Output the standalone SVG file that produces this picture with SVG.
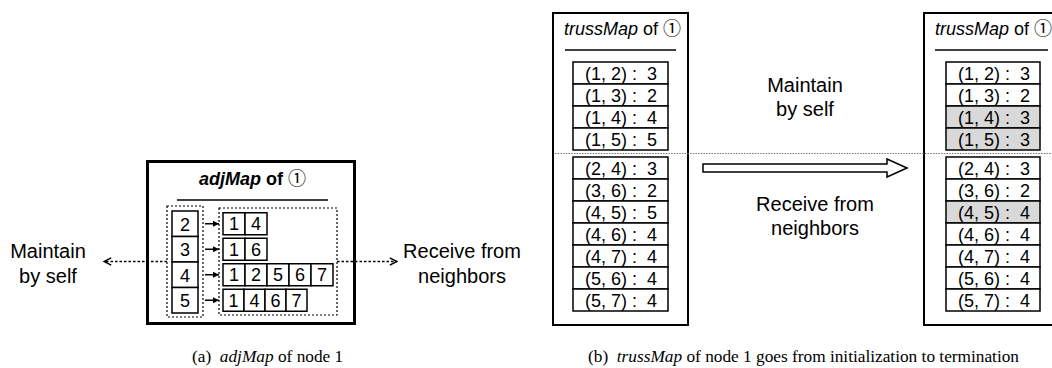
<svg xmlns="http://www.w3.org/2000/svg" width="1052" height="368" viewBox="0 0 1052 368" xml:space="preserve">
<defs>
<style>
.t{font-family:"Liberation Sans","Noto Sans CJK SC",sans-serif;fill:#000}
.lbl{font-size:20px;text-anchor:middle}
.cell{fill:#fff;stroke:#000;stroke-width:1.5}
.gray{fill:#d9d9d9;stroke:#000;stroke-width:1.5}
.num{font-size:18px;text-anchor:middle}
.row{font-size:18px;text-anchor:middle;white-space:pre}
.dot{fill:none;stroke:#000;stroke-width:1.2;stroke-dasharray:2 2}
.cap{font-family:"Liberation Serif",serif;font-size:17.3px;fill:#000;white-space:pre}
</style>
<marker id="open" viewBox="0 0 10 10" refX="9" refY="5" markerWidth="9" markerHeight="9" markerUnits="userSpaceOnUse" orient="auto">
<path d="M1,1 L9,5 L1,9" fill="none" stroke="#000" stroke-width="1.6"/>
</marker>
<marker id="solid" viewBox="0 0 10 10" refX="10" refY="5" markerWidth="6" markerHeight="6" markerUnits="userSpaceOnUse" orient="auto">
<path d="M0,0 L10,5 L0,10 Z" fill="#000"/>
</marker>
</defs>

<!-- Panel (a) -->
<g id="adjMap">
<rect x="147.5" y="161.5" width="207" height="162" fill="#fff" stroke="#000" stroke-width="3"/>
<text class="t" x="199" y="185" style="font-size:18px;font-weight:bold"><tspan font-style="italic">adjMap</tspan> of <tspan font-weight="normal">①</tspan></text>
<line x1="177" y1="200" x2="328" y2="200" stroke="#000" stroke-width="1.5"/>
</g>

<g id="keys">
<rect class="dot" x="167" y="206" width="36" height="111"/>
<rect class="cell" x="172" y="211" width="26" height="25.5"/>
<rect class="cell" x="172" y="236.5" width="26" height="25.5"/>
<rect class="cell" x="172" y="262" width="26" height="25.5"/>
<rect class="cell" x="172" y="287.5" width="26" height="25.5"/>
<text class="t num" x="185" y="230.5">2</text>
<text class="t num" x="185" y="256">3</text>
<text class="t num" x="185" y="281.5">4</text>
<text class="t num" x="185" y="307">5</text>
</g>

<g id="lists">
<rect class="dot" x="219" y="208" width="118" height="107"/>
<rect class="cell" x="223" y="212.75" width="22" height="22"/>
<rect class="cell" x="245" y="212.75" width="22" height="22"/>
<text class="t num" x="234" y="230.25">1</text>
<text class="t num" x="256" y="230.25">4</text>
<rect class="cell" x="223" y="238.25" width="22" height="22"/>
<rect class="cell" x="245" y="238.25" width="22" height="22"/>
<text class="t num" x="234" y="255.75">1</text>
<text class="t num" x="256" y="255.75">6</text>
<rect class="cell" x="223" y="263.75" width="22" height="22"/>
<rect class="cell" x="245" y="263.75" width="22" height="22"/>
<rect class="cell" x="267" y="263.75" width="22" height="22"/>
<rect class="cell" x="289" y="263.75" width="22" height="22"/>
<rect class="cell" x="311" y="263.75" width="22" height="22"/>
<text class="t num" x="234" y="281.25">1</text>
<text class="t num" x="256" y="281.25">2</text>
<text class="t num" x="278" y="281.25">5</text>
<text class="t num" x="300" y="281.25">6</text>
<text class="t num" x="322" y="281.25">7</text>
<rect class="cell" x="223" y="289.25" width="21" height="22"/>
<rect class="cell" x="244" y="289.25" width="21" height="22"/>
<rect class="cell" x="265" y="289.25" width="21" height="22"/>
<rect class="cell" x="286" y="289.25" width="21" height="22"/>
<text class="t num" x="233.5" y="306.75">1</text>
<text class="t num" x="254.5" y="306.75">4</text>
<text class="t num" x="275.5" y="306.75">6</text>
<text class="t num" x="296.5" y="306.75">7</text>
</g>

<g id="labelsA">
<text class="t lbl" x="48" y="258">Maintain</text>
<text class="t lbl" x="48" y="283">by self</text>
<text class="t lbl" x="462" y="258">Receive from</text>
<text class="t lbl" x="462" y="283">neighbors</text>
</g>

<g id="connectorsA">
<line x1="167" y1="261.5" x2="104" y2="261.5" stroke="#000" stroke-width="1.5" stroke-dasharray="2.5 2" marker-end="url(#open)"/>
<line x1="337" y1="261.5" x2="397" y2="261.5" stroke="#000" stroke-width="1.5" stroke-dasharray="2.5 2" marker-end="url(#open)"/>
<line x1="205" y1="223.75" x2="219" y2="223.75" stroke="#000" stroke-width="1.5" marker-end="url(#solid)"/>
<line x1="205" y1="249.25" x2="219" y2="249.25" stroke="#000" stroke-width="1.5" marker-end="url(#solid)"/>
<line x1="205" y1="274.75" x2="219" y2="274.75" stroke="#000" stroke-width="1.5" marker-end="url(#solid)"/>
<line x1="205" y1="300.25" x2="219" y2="300.25" stroke="#000" stroke-width="1.5" marker-end="url(#solid)"/>
</g>

<!-- Panel (b) -->
<g id="trussInit">
<rect x="553" y="13" width="135" height="312" fill="#fff" stroke="#000" stroke-width="2"/>
<text class="t" x="564" y="35" style="font-size:18px"><tspan font-style="italic">trussMap</tspan> of ①</text>
<line x1="565" y1="50" x2="676" y2="50" stroke="#000" stroke-width="1.5"/>
<rect class="cell" x="573" y="62" width="95" height="22"/>
<rect class="cell" x="573" y="84" width="95" height="22"/>
<rect class="cell" x="573" y="106" width="95" height="22"/>
<rect class="cell" x="573" y="128" width="95" height="22"/>
<text class="t row" x="621" y="79.5">(1, 2) :  3</text>
<text class="t row" x="621" y="101.5">(1, 3) :  2</text>
<text class="t row" x="621" y="123.5">(1, 4) :  4</text>
<text class="t row" x="621" y="145.5">(1, 5) :  5</text>
<rect class="cell" x="573" y="157" width="95" height="22"/>
<rect class="cell" x="573" y="179" width="95" height="22"/>
<rect class="cell" x="573" y="201" width="95" height="22"/>
<rect class="cell" x="573" y="223" width="95" height="22"/>
<rect class="cell" x="573" y="245" width="95" height="22"/>
<rect class="cell" x="573" y="267" width="95" height="22"/>
<rect class="cell" x="573" y="289" width="95" height="22"/>
<text class="t row" x="621" y="174.5">(2, 4) :  3</text>
<text class="t row" x="621" y="196.5">(3, 6) :  2</text>
<text class="t row" x="621" y="218.5">(4, 5) :  5</text>
<text class="t row" x="621" y="240.5">(4, 6) :  4</text>
<text class="t row" x="621" y="262.5">(4, 7) :  4</text>
<text class="t row" x="621" y="284.5">(5, 6) :  4</text>
<text class="t row" x="621" y="306.5">(5, 7) :  4</text>
</g>

<g id="trussFinal">
<rect x="924" y="13" width="140" height="312" fill="#fff" stroke="#000" stroke-width="2"/>
<text class="t" x="935" y="35" style="font-size:18px"><tspan font-style="italic">trussMap</tspan> of ①</text>
<line x1="935" y1="50" x2="1048" y2="50" stroke="#000" stroke-width="1.5"/>
<rect class="cell" x="946" y="62" width="94" height="22"/>
<rect class="cell" x="946" y="84" width="94" height="22"/>
<rect class="gray" x="946" y="106" width="94" height="22"/>
<rect class="gray" x="946" y="128" width="94" height="22"/>
<text class="t row" x="994" y="79.5">(1, 2) :  3</text>
<text class="t row" x="994" y="101.5">(1, 3) :  2</text>
<text class="t row" x="994" y="123.5">(1, 4) :  3</text>
<text class="t row" x="994" y="145.5">(1, 5) :  3</text>
<rect class="cell" x="946" y="157" width="94" height="22"/>
<rect class="cell" x="946" y="179" width="94" height="22"/>
<rect class="gray" x="946" y="201" width="94" height="22"/>
<rect class="cell" x="946" y="223" width="94" height="22"/>
<rect class="cell" x="946" y="245" width="94" height="22"/>
<rect class="cell" x="946" y="267" width="94" height="22"/>
<rect class="cell" x="946" y="289" width="94" height="22"/>
<text class="t row" x="994" y="174.5">(2, 4) :  3</text>
<text class="t row" x="994" y="196.5">(3, 6) :  2</text>
<text class="t row" x="994" y="218.5">(4, 5) :  4</text>
<text class="t row" x="994" y="240.5">(4, 6) :  4</text>
<text class="t row" x="994" y="262.5">(4, 7) :  4</text>
<text class="t row" x="994" y="284.5">(5, 6) :  4</text>
<text class="t row" x="994" y="306.5">(5, 7) :  4</text>
</g>

<g id="labelsB">
<text class="t lbl" x="805" y="92">Maintain</text>
<text class="t lbl" x="805" y="116">by self</text>
<text class="t lbl" x="815" y="211">Receive from</text>
<text class="t lbl" x="815" y="235">neighbors</text>
</g>

<g id="connectorsB">
<line x1="555" y1="153.5" x2="1052" y2="153.5" stroke="#777" stroke-width="1.2" stroke-dasharray="1.5 1.2"/>
<polygon points="703,164 887,164 887,159 907,168 887,177 887,172 703,172" fill="#fff" stroke="#000" stroke-width="1.5"/>
</g>

<g id="captions">
<text class="cap" x="192" y="362">(a)  <tspan font-style="italic">adjMap</tspan> of node 1</text>
<text class="cap" x="588" y="362">(b)  <tspan font-style="italic">trussMap</tspan> of node 1 goes from initialization to termination</text>
</g>
</svg>
